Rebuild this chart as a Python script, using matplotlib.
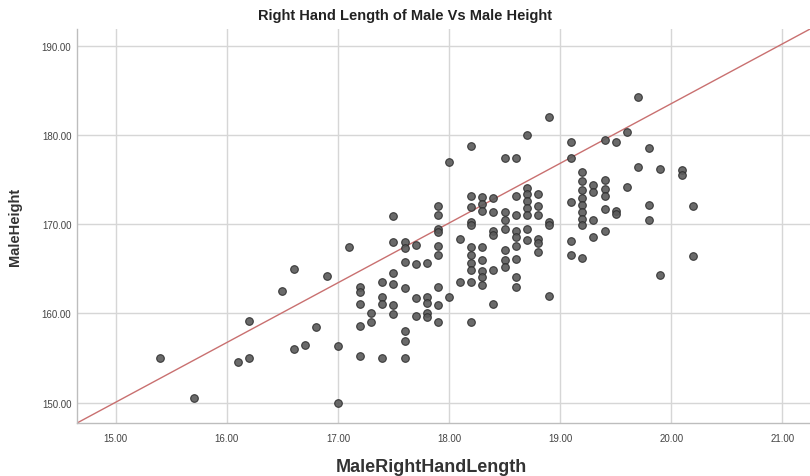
import matplotlib
matplotlib.use("Agg")
import matplotlib.pyplot as plt

# Data, grouped by hand length (cm)
columns = {
    15.4: [155.0],
    15.7: [150.5],
    16.1: [154.5],
    16.2: [155.0, 159.2],
    16.5: [162.5],
    16.6: [165.0, 156.0],
    16.7: [156.5],
    16.8: [158.5],
    16.9: [164.2],
    17.0: [156.4, 150.0],
    17.1: [167.5],
    17.2: [163.0, 162.4, 161.1, 158.6, 155.2],
    17.3: [160.0, 159.0],
    17.4: [163.5, 161.8, 161.1, 155.0],
    17.5: [170.9, 168.0, 164.5, 163.3, 160.9, 159.9],
    17.6: [168.0, 167.3, 165.8, 162.9, 158.0, 156.9, 155.0],
    17.7: [167.7, 165.5, 161.7, 159.7],
    17.8: [165.7, 161.8, 161.2, 160.0, 159.6],
    17.9: [172.1, 171.0, 169.5, 169.1, 167.6, 166.5, 163.0, 160.9, 159.0],
    18.0: [177.0, 161.8],
    18.1: [168.4, 163.5],
    18.2: [178.8, 173.2, 171.9, 170.3, 169.9, 167.5, 166.6, 165.7, 164.9, 163.5, 159.0],
    18.3: [173.1, 172.3, 171.5, 167.5, 166.0, 164.8, 164.1, 163.2],
    18.4: [173.0, 171.4, 169.3, 168.8, 164.9, 161.0],
    18.5: [177.4, 171.4, 170.5, 169.5, 167.1, 166.0, 165.2],
    18.6: [177.4, 173.2, 171.0, 169.3, 168.6, 167.6, 166.1, 164.1, 163.0],
    18.7: [180.0, 174.1, 173.4, 172.6, 171.8, 171.0, 169.5, 168.2],
    18.8: [173.4, 172.0, 171.0, 168.4, 167.9, 166.9],
    18.9: [182.0, 170.3, 169.9, 162.0],
    19.1: [179.2, 177.4, 172.5, 168.1, 166.5],
    19.2: [175.9, 174.9, 173.8, 173.0, 172.2, 171.4, 170.6, 169.9, 166.2],
    19.3: [174.4, 173.6, 170.5, 168.6],
    19.4: [179.5, 175.0, 174.0, 173.2, 171.7, 169.3],
    19.5: [179.2, 171.5, 171.2],
    19.6: [180.4, 174.2],
    19.7: [184.3, 176.4],
    19.8: [178.5, 172.2, 170.5],
    19.9: [176.2, 164.3],
    20.1: [176.1, 175.5],
    20.2: [172.0, 166.4],
}
hand_length = [x for x, ys in columns.items() for _ in ys]
height = [y for ys in columns.values() for y in ys]

ref_x = [14.65, 21.25]
ref_y = [147.7, 191.9]

x_ticks = [15, 16, 17, 18, 19, 20, 21]
y_ticks = [150, 160, 170, 180, 190]

plt.rcParams['font.family'] = ['Liberation Sans', 'DejaVu Sans']

fig = plt.figure(figsize=(8.1, 4.77), dpi=100)
ax = fig.add_axes([0.095, 0.111, 0.905, 0.826])

ax.set_xlim(14.65, 21.25)
ax.set_ylim(147.7, 191.9)
ax.set_xticks(x_ticks)
ax.set_yticks(y_ticks)
ax.set_xticklabels([f"{v:.2f}" for v in x_ticks])
ax.set_yticklabels([f"{v:.2f}" for v in y_ticks])
ax.grid(True, color='#d6d6d6', linewidth=1.0)
ax.set_axisbelow(True)
for s in ['top', 'right']:
    ax.spines[s].set_visible(False)
for s in ['left', 'bottom']:
    ax.spines[s].set_color('#bdbdbd')
    ax.spines[s].set_linewidth(1.0)
ax.tick_params(length=0, labelsize=7, labelcolor='#444444')
ax.tick_params(axis='x', pad=7)
ax.tick_params(axis='y', pad=4)

ax.plot(ref_x, ref_y, color='#c97070', linewidth=1.0, zorder=2)
ax.scatter(hand_length, height, s=30, facecolor='#5a5a5a', edgecolor='#2e2e2e',
           linewidth=0.8, alpha=0.9, zorder=3)

fig.text(0.5, 0.966, "Right Hand Length of Male Vs Male Height", fontsize=10.5,
         fontweight='bold', color='#222222', ha='center', va='center')
ax.set_xlabel("MaleRightHandLength", fontsize=13, fontweight='bold', color='#333333',
              labelpad=11, x=0.484)
ax.set_ylabel("MaleHeight", fontsize=10.5, fontweight='bold', color='#333333', labelpad=14)

fig.savefig("out.png", dpi=100)
